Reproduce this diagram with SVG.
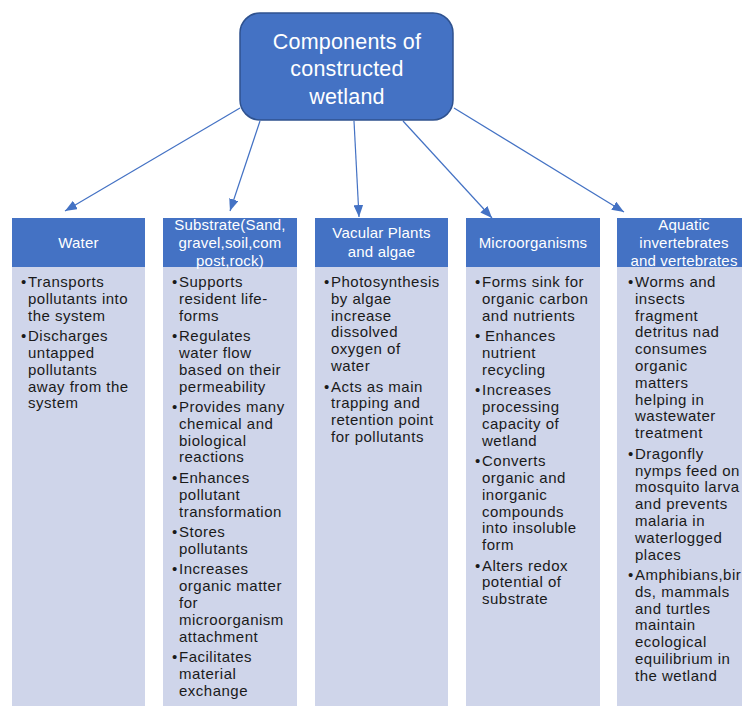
<svg xmlns="http://www.w3.org/2000/svg" width="742" height="706" viewBox="0 0 742 706">
<style>
.hdr{fill:#4472C4}
.body{fill:#CFD5EA}
.ht{font-family:"Liberation Sans",Arial,sans-serif;font-size:15px;letter-spacing:0.2px;fill:#ffffff;text-anchor:middle}
.bt{font-family:"Liberation Sans",Arial,sans-serif;font-size:15px;letter-spacing:0.5px;fill:#1a1a1a}
.conn{stroke:#4472C4;stroke-width:1.2;fill:none}
.title{font-family:"Liberation Sans",Arial,sans-serif;font-size:21.5px;letter-spacing:0.2px;fill:#ffffff;text-anchor:middle}
</style>
<defs>
<marker id="ah" viewBox="0 0 10 8" refX="10" refY="4" markerWidth="12" markerHeight="9.6" markerUnits="userSpaceOnUse" orient="auto">
<path d="M0,0 L10,4 L0,8 z" fill="#4472C4"/>
</marker>
</defs>
<rect width="742" height="706" fill="#ffffff"/>
<g id="connectors">
<line class="conn" x1="240" y1="108" x2="65" y2="211" marker-end="url(#ah)"/>
<line class="conn" x1="260" y1="121" x2="230" y2="211" marker-end="url(#ah)"/>
<line class="conn" x1="354" y1="121" x2="359" y2="217" marker-end="url(#ah)"/>
<line class="conn" x1="403" y1="121" x2="492" y2="218" marker-end="url(#ah)"/>
<line class="conn" x1="454" y1="108" x2="624" y2="212" marker-end="url(#ah)"/>
</g>
<g id="root">
<rect x="240" y="13" width="213" height="107" rx="20" fill="#4472C4" stroke="#2F528F" stroke-width="1.5"/>
<text class="title"><tspan x="347" y="49">Components of</tspan><tspan x="347" y="76">constructed</tspan><tspan x="347" y="104">wetland</tspan></text>
</g>
<g id="water">
<rect class="hdr" x="12" y="218" width="133" height="49"/>
<rect class="body" x="12" y="267" width="133" height="439"/>
<text class="ht"><tspan x="78.5" y="248">Water</tspan></text>
<text class="bt">
<tspan x="21" y="287">•</tspan><tspan x="28">Transports</tspan>
<tspan x="28" dy="16.8">pollutants into</tspan>
<tspan x="28" dy="16.8">the system</tspan>
<tspan x="21" dy="20.5">•</tspan><tspan x="28">Discharges</tspan>
<tspan x="28" dy="16.8">untapped</tspan>
<tspan x="28" dy="16.8">pollutants</tspan>
<tspan x="28" dy="16.8">away from the</tspan>
<tspan x="28" dy="16.8">system</tspan>
</text>
</g>
<g id="substrate">
<rect class="hdr" x="163" y="218" width="134" height="49"/>
<rect class="body" x="163" y="267" width="134" height="439"/>
<text class="ht"><tspan x="230" y="230">Substrate(Sand,</tspan><tspan x="230" y="248">gravel,soil,com</tspan><tspan x="230" y="265.5">post,rock)</tspan></text>
<text class="bt">
<tspan x="172" y="287">•</tspan><tspan x="179">Supports</tspan>
<tspan x="179" dy="16.8">resident life-</tspan>
<tspan x="179" dy="16.8">forms</tspan>
<tspan x="172" dy="20.5">•</tspan><tspan x="179">Regulates</tspan>
<tspan x="179" dy="16.8">water flow</tspan>
<tspan x="179" dy="16.8">based on their</tspan>
<tspan x="179" dy="16.8">permeability</tspan>
<tspan x="172" dy="20.5">•</tspan><tspan x="179">Provides many</tspan>
<tspan x="179" dy="16.8">chemical and</tspan>
<tspan x="179" dy="16.8">biological</tspan>
<tspan x="179" dy="16.8">reactions</tspan>
<tspan x="172" dy="20.5">•</tspan><tspan x="179">Enhances</tspan>
<tspan x="179" dy="16.8">pollutant</tspan>
<tspan x="179" dy="16.8">transformation</tspan>
<tspan x="172" dy="20.5">•</tspan><tspan x="179">Stores</tspan>
<tspan x="179" dy="16.8">pollutants</tspan>
<tspan x="172" dy="20.5">•</tspan><tspan x="179">Increases</tspan>
<tspan x="179" dy="16.8">organic matter</tspan>
<tspan x="179" dy="16.8">for</tspan>
<tspan x="179" dy="16.8">microorganism</tspan>
<tspan x="179" dy="16.8">attachment</tspan>
<tspan x="172" dy="20.5">•</tspan><tspan x="179">Facilitates</tspan>
<tspan x="179" dy="16.8">material</tspan>
<tspan x="179" dy="16.8">exchange</tspan>
</text>
</g>
<g id="plants">
<rect class="hdr" x="315" y="218" width="133" height="49"/>
<rect class="body" x="315" y="267" width="133" height="439"/>
<text class="ht"><tspan x="381.5" y="238">Vacular Plants</tspan><tspan x="381.5" y="257">and algae</tspan></text>
<text class="bt">
<tspan x="324" y="287">•</tspan><tspan x="331">Photosynthesis</tspan>
<tspan x="331" dy="16.8">by algae</tspan>
<tspan x="331" dy="16.8">increase</tspan>
<tspan x="331" dy="16.8">dissolved</tspan>
<tspan x="331" dy="16.8">oxygen of</tspan>
<tspan x="331" dy="16.8">water</tspan>
<tspan x="324" dy="20.5">•</tspan><tspan x="331">Acts as main</tspan>
<tspan x="331" dy="16.8">trapping and</tspan>
<tspan x="331" dy="16.8">retention point</tspan>
<tspan x="331" dy="16.8">for pollutants</tspan>
</text>
</g>
<g id="microorganisms">
<rect class="hdr" x="466" y="218" width="134" height="49"/>
<rect class="body" x="466" y="267" width="134" height="439"/>
<text class="ht"><tspan x="533" y="248">Microorganisms</tspan></text>
<text class="bt">
<tspan x="475" y="287">•</tspan><tspan x="482">Forms sink for</tspan>
<tspan x="482" dy="16.8">organic carbon</tspan>
<tspan x="482" dy="16.8">and nutrients</tspan>
<tspan x="475" dy="20.5">•</tspan><tspan x="485">Enhances</tspan>
<tspan x="482" dy="16.8">nutrient</tspan>
<tspan x="482" dy="16.8">recycling</tspan>
<tspan x="475" dy="20.5">•</tspan><tspan x="482">Increases</tspan>
<tspan x="482" dy="16.8">processing</tspan>
<tspan x="482" dy="16.8">capacity of</tspan>
<tspan x="482" dy="16.8">wetland</tspan>
<tspan x="475" dy="20.5">•</tspan><tspan x="482">Converts</tspan>
<tspan x="482" dy="16.8">organic and</tspan>
<tspan x="482" dy="16.8">inorganic</tspan>
<tspan x="482" dy="16.8">compounds</tspan>
<tspan x="482" dy="16.8">into insoluble</tspan>
<tspan x="482" dy="16.8">form</tspan>
<tspan x="475" dy="20.5">•</tspan><tspan x="482">Alters redox</tspan>
<tspan x="482" dy="16.8">potential of</tspan>
<tspan x="482" dy="16.8">substrate</tspan>
</text>
</g>
<g id="aquatic">
<rect class="hdr" x="617" y="218" width="134" height="49"/>
<rect class="body" x="617" y="267" width="134" height="439"/>
<text class="ht"><tspan x="684" y="230">Aquatic</tspan><tspan x="684" y="248">invertebrates</tspan><tspan x="684" y="265.5">and vertebrates</tspan></text>
<text class="bt">
<tspan x="628" y="287">•</tspan><tspan x="635">Worms and</tspan>
<tspan x="635" dy="16.8">insects</tspan>
<tspan x="635" dy="16.8">fragment</tspan>
<tspan x="635" dy="16.8">detritus nad</tspan>
<tspan x="635" dy="16.8">consumes</tspan>
<tspan x="635" dy="16.8">organic</tspan>
<tspan x="635" dy="16.8">matters</tspan>
<tspan x="635" dy="16.8">helping in</tspan>
<tspan x="635" dy="16.8">wastewater</tspan>
<tspan x="635" dy="16.8">treatment</tspan>
<tspan x="628" dy="20.5">•</tspan><tspan x="635">Dragonfly</tspan>
<tspan x="635" dy="16.8">nymps feed on</tspan>
<tspan x="635" dy="16.8">mosquito larva</tspan>
<tspan x="635" dy="16.8">and prevents</tspan>
<tspan x="635" dy="16.8">malaria in</tspan>
<tspan x="635" dy="16.8">waterlogged</tspan>
<tspan x="635" dy="16.8">places</tspan>
<tspan x="628" dy="20.5">•</tspan><tspan x="635">Amphibians,bir</tspan>
<tspan x="635" dy="16.8">ds, mammals</tspan>
<tspan x="635" dy="16.8">and turtles</tspan>
<tspan x="635" dy="16.8">maintain</tspan>
<tspan x="635" dy="16.8">ecological</tspan>
<tspan x="635" dy="16.8">equilibrium in</tspan>
<tspan x="635" dy="16.8">the wetland</tspan>
</text>
</g>
</svg>
